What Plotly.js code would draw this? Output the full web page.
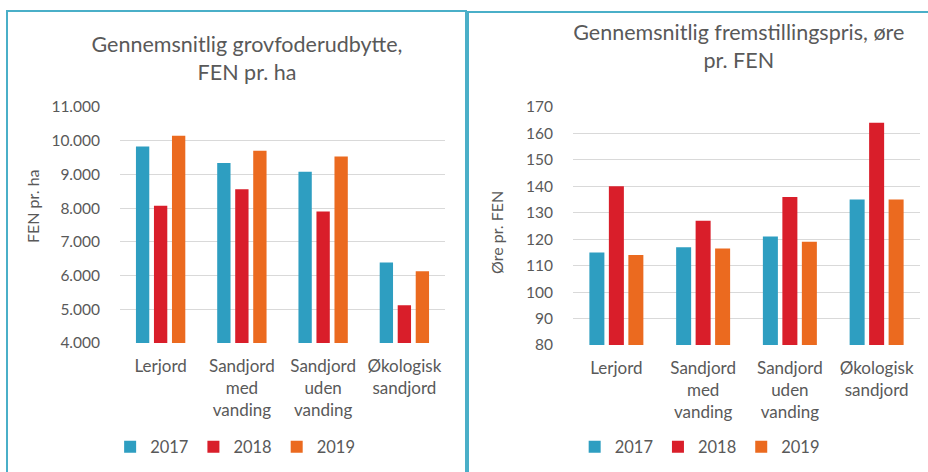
<!DOCTYPE html>
<html>
<head>
<meta charset="utf-8">
<script src="https://cdn.plot.ly/plotly-3.0.1.min.js"></script>
<style>
  html, body { margin: 0; padding: 0; width: 928px; height: 472px; overflow: hidden; background: #fff; }
  .box { position: absolute; box-sizing: border-box; border: 2px solid #4AAFC8; background: #fff; }
  #boxA { left: 6px; top: 10px; width: 461px; height: 480px; }
  #boxB { left: 467px; top: 11px; width: 470px; height: 480px; }
</style>
</head>
<body>
<div class="box" id="boxA"><div id="chartA"></div></div>
<div class="box" id="boxB"><div id="chartB"></div></div>
<script>
// ---- data ----
const categories = ["Lerjord", "Sandjord<br>med<br>vanding", "Sandjord<br>uden<br>vanding", "Økologisk<br>sandjord"];
const years = ["2017", "2018", "2019"];
const colors = ["#2E9EC1", "#D91E2A", "#EB6A1F"];

// Gennemsnitlig grovfoderudbytte, FEN pr. ha
const yield2017 = [9830, 9340, 9080, 6390];
const yield2018 = [8070, 8560, 7900, 5120];
const yield2019 = [10150, 9700, 9530, 6130];

// Gennemsnitlig fremstillingspris, øre pr. FEN
const price2017 = [115, 117, 121, 135];
const price2018 = [140, 127, 136, 164];
const price2019 = [114, 116.5, 119, 135];

const yieldTicks = [4000, 5000, 6000, 7000, 8000, 9000, 10000, 11000];
const priceTicks = [80, 90, 100, 110, 120, 130, 140, 150, 160, 170];

const FONT = "Lato, 'Open Sans', sans-serif";
const GREY = "#595959";

function traces(series) {
  return series.map((vals, i) => ({
    type: "bar",
    name: years[i],
    x: categories,
    y: vals,
    marker: { color: colors[i] },
    hoverinfo: "skip"
  }));
}

function layoutFor(opts) {
  return {
    width: opts.width,
    height: 476,
    margin: opts.margin,
    paper_bgcolor: "#fff",
    plot_bgcolor: "#fff",
    separators: ",.",
    font: { family: FONT, color: GREY, size: 16 },
    title: {
      text: opts.title,
      font: { family: FONT, size: 21.5, color: GREY },
      xref: "container", x: opts.titleX, xanchor: "center",
      yref: "container", y: opts.titleY, yanchor: "top"
    },
    barmode: "group",
    bargap: opts.bargap,
    bargroupgap: opts.bargroupgap,
    showlegend: true,
    legend: {
      orientation: "h",
      xref: "container", x: opts.legendX, xanchor: "center",
      yref: "container", y: opts.legendY, yanchor: "middle",
      font: { family: FONT, size: 16.5, color: GREY },
      itemclick: false, itemdoubleclick: false,
      itemwidth: 30,
      tracegroupgap: 0
    },
    annotations: [{
      text: opts.ytitle,
      textangle: -90,
      showarrow: false,
      xref: "paper", x: opts.ytitleX, xanchor: "center",
      yref: "paper", y: opts.ytitleY, yanchor: "middle",
      font: { family: FONT, size: 16, color: GREY }
    }],
    xaxis: {
      type: "category",
      showgrid: false,
      showline: false,
      zeroline: false,
      ticks: "",
      ticklabelstandoff: 11,
      tickfont: { family: FONT, size: 17, color: GREY },
      fixedrange: true
    },
    yaxis: {
      range: opts.yrange,
      tickvals: opts.tickvals,
      tickformat: opts.tickformat,
      showgrid: true,
      gridcolor: "#D9D9D9",
      gridwidth: 1,
      zeroline: false,
      showline: false,
      ticks: "",
      ticklabelstandoff: opts.labelStandoff,
      tickfont: { family: FONT, size: 15.5, color: GREY },
      fixedrange: true
    }
  };
}

Plotly.newPlot("chartA", traces([yield2017, yield2018, yield2019]), layoutFor({
  width: 457,
  margin: { l: 112, r: 20, t: 95, b: 145 },
  title: "Gennemsnitlig grovfoderudbytte,<br>FEN pr. ha",
  titleX: 0.523, titleY: 1 - 40 / 476,
  bargap: 0.335, bargroupgap: 0.26,
  legendX: 0.497, legendY: 1 - 435 / 476,
  yrange: [4000, 11000],
  tickvals: yieldTicks,
  tickformat: ",d",
  labelStandoff: 19,
  ytitle: "FEN pr. ha",
  ytitleX: -0.2708, ytitleY: 0.5805
}), { staticPlot: true });

Plotly.newPlot("chartB", traces([price2017, price2018, price2019]), layoutFor({
  width: 466,
  margin: { l: 104, r: 15, t: 94, b: 144 },
  title: "Gennemsnitlig fremstillingspris, øre<br>pr. FEN",
  titleX: 0.579, titleY: 1 - 27 / 476,
  bargap: 0.326, bargroupgap: 0.23,
  legendX: 0.495, legendY: 1 - 434 / 476,
  yrange: [80, 170],
  tickvals: priceTicks,
  tickformat: "d",
  labelStandoff: 19,
  ytitle: "Øre pr. FEN",
  ytitleX: -0.219, ytitleY: 0.4706
}), { staticPlot: true });
</script>
</body>
</html>
